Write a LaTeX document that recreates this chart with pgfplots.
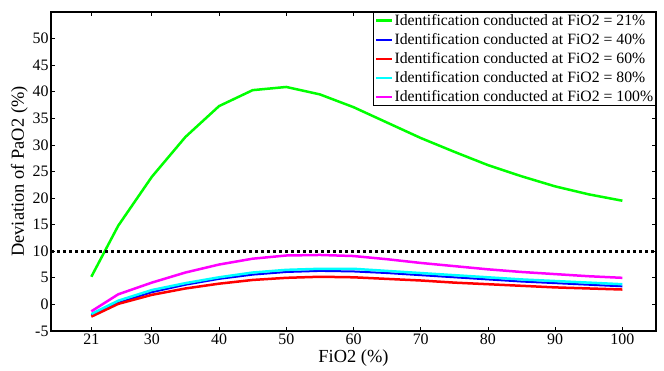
\documentclass[border=0pt]{standalone}
\usepackage{fontspec}
\setmainfont{Liberation Serif}
\usepackage{pgfplots}
\pgfplotsset{compat=1.18}
\definecolor{cgreen}{RGB}{0,255,0}
\definecolor{cblue}{RGB}{0,0,255}
\definecolor{cred}{RGB}{255,0,0}
\definecolor{ccyan}{RGB}{0,255,255}
\definecolor{cmag}{RGB}{255,0,255}
\begin{document}
\begin{tikzpicture}
\begin{axis}[
  scale only axis, width=605bp, height=319bp,
  xmin=15, xmax=105, ymin=-5, ymax=55,
  xtick={21,30,40,50,60,70,80,90,100},
  ytick={-5,0,5,10,15,20,25,30,35,40,45,50},
  tick align=inside, tick pos=both,
  major tick length=4bp,
  axis line style={line width=1.2bp},
  every tick/.style={black, line width=0.8bp},
  /pgf/number format/assume math mode=true,
  ticklabel style={font=\fontsize{16}{18}\selectfont},
  xticklabel style={yshift=1bp},
  yticklabel style={xshift=1bp},
  xlabel={FiO2 (\%)}, ylabel={Deviation of PaO2 (\%)},
  label style={font=\fontsize{18.5}{20}\selectfont},
  xlabel style={yshift=1bp},
  ylabel style={yshift=-2bp},
  legend style={at={(1,1)}, anchor=north east, font=\fontsize{15.8}{17}\selectfont,
    draw=black, line width=0.8bp, inner sep=1.5bp, row sep=5.5bp,
    nodes={inner xsep=1bp, inner ysep=0.5bp}},
  legend cell align=left,
  legend image code/.code={\draw[#1, line width=2.5bp] (0cm,0cm) -- (16bp,0cm);},
]
\addplot[cgreen, line width=2.5bp] coordinates {(21,5.2)(25,14.8)(30,24)(35,31.5)(40,37.3)(45,40.3)(50,40.9)(55,39.5)(60,37.1)(65,34.2)(70,31.3)(75,28.7)(80,26.2)(85,24.1)(90,22.2)(95,20.7)(100,19.5)};
\addlegendentry{Identification conducted at FiO2 = 21\%}
\addplot[cblue, line width=2bp] coordinates {(21,-2)(25,0.3)(30,2.3)(35,3.7)(40,4.8)(45,5.6)(50,6.1)(55,6.3)(60,6.2)(65,5.9)(70,5.5)(75,5.1)(80,4.7)(85,4.3)(90,4.0)(95,3.7)(100,3.4)};
\addlegendentry{Identification conducted at FiO2 = 40\%}
\addplot[cred, line width=2.5bp] coordinates {(21,-2.3)(25,0.1)(30,1.8)(35,3.0)(40,3.9)(45,4.6)(50,5.0)(55,5.2)(60,5.1)(65,4.8)(70,4.5)(75,4.1)(80,3.8)(85,3.5)(90,3.2)(95,3.0)(100,2.8)};
\addlegendentry{Identification conducted at FiO2 = 60\%}
\addplot[ccyan, line width=2.5bp] coordinates {(21,-1.8)(25,0.7)(30,2.7)(35,4.0)(40,5.1)(45,6.0)(50,6.5)(55,6.7)(60,6.7)(65,6.3)(70,5.9)(75,5.5)(80,5.1)(85,4.7)(90,4.4)(95,4.1)(100,3.8)};
\addlegendentry{Identification conducted at FiO2 = 80\%}
\addplot[cmag, line width=2.5bp] coordinates {(21,-1.3)(25,1.9)(30,4.1)(35,6.0)(40,7.5)(45,8.6)(50,9.2)(55,9.3)(60,9.1)(65,8.5)(70,7.8)(75,7.2)(80,6.6)(85,6.1)(90,5.7)(95,5.3)(100,5.0)};
\addlegendentry{Identification conducted at FiO2 = 100\%}
\addplot[black, line width=2.8bp, dash pattern=on 3bp off 3bp, forget plot] coordinates {(15,10)(105,10)};
\end{axis}
\path ([shift={(-51bp,-39bp)}]current axis.south west) rectangle ([shift={(8bp,12bp)}]current axis.north east);
\end{tikzpicture}
\end{document}
